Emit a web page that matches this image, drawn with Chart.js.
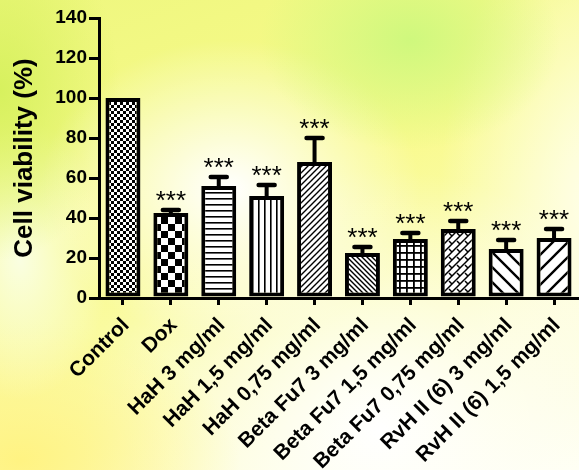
<!DOCTYPE html>
<html>
<head>
<meta charset="utf-8">
<script src="https://cdn.jsdelivr.net/npm/chart.js@4"></script>
<style>
    body {
        margin: 0;
        width: 579px;
        height: 470px;
        overflow: hidden;
        background:
            radial-gradient(ellipse 150px 110px at 410px 40px, rgba(205, 248, 125, 0.95), rgba(205, 248, 125, 0) 100%),
            radial-gradient(ellipse 190px 150px at 230px 190px, rgba(255, 255, 255, 1), rgba(255, 255, 255, 0) 100%),
            radial-gradient(ellipse 120px 170px at 0px 90px, rgba(212, 240, 90, 0.9), rgba(212, 240, 90, 0) 100%),
            radial-gradient(ellipse 90px 140px at 20px 260px, rgba(250, 255, 235, 0.9), rgba(250, 255, 235, 0) 100%),
            radial-gradient(ellipse 220px 140px at 20px 460px, rgba(255, 243, 130, 1), rgba(255, 243, 130, 0) 100%),
            radial-gradient(ellipse 300px 260px at 380px 430px, rgba(255, 255, 255, 1), rgba(255, 255, 255, 0) 100%),
            radial-gradient(ellipse 160px 300px at 600px 200px, rgba(255, 255, 235, 1), rgba(255, 255, 235, 0) 100%),
            linear-gradient(160deg, #eef77e 0%, #f9fa8c 40%, #fbfcb8 70%, #fffff0 100%);
    }
    #wrap { width: 579px; height: 470px; }
</style>
</head>
<body>
<div id="wrap"><canvas id="viabilityChart" width="579" height="470"></canvas></div>
<script>
const groups = ['Control', 'Dox', 'HaH 3 mg/ml', 'HaH 1,5 mg/ml', 'HaH 0,75 mg/ml',
    'Beta Fu7 3 mg/ml', 'Beta Fu7 1,5 mg/ml', 'Beta Fu7 0,75 mg/ml',
    'RvH II (6) 3 mg/ml', 'RvH II (6) 1,5 mg/ml'];
const viability = [100, 42.5, 56, 51, 68, 22.5, 29.5, 34.5, 24.5, 30];
const sem = [0, 1.5, 4.5, 5.5, 12, 3, 3, 4, 4.5, 4.5];
const stars = ['', '***', '***', '***', '***', '***', '***', '***', '***', '***'];
const patternNames = ['fineCheck', 'bigCheck', 'hLines', 'vLines', 'denseRight',
    'denseLeft', 'grid', 'weave', 'sparseLeft', 'sparseRight'];

function makePattern(name) {
    const tile = document.createElement('canvas');
    let size = 6;
    if (name === 'bigCheck') size = 14;
    if (name === 'grid') size = 6.5;
    if (name === 'weave') size = 8;
    if (name === 'sparseLeft' || name === 'sparseRight') size = 15;
    if (name === 'denseLeft') size = 5;
    size = Math.round(size);
    tile.width = size;
    tile.height = size;
    const c = tile.getContext('2d');
    c.fillStyle = '#fff';
    c.fillRect(0, 0, size, size);
    c.fillStyle = '#000';
    c.strokeStyle = '#000';

    const slash = (w) => {
        c.lineWidth = w;
        c.beginPath();
        c.moveTo(-2, size + 2); c.lineTo(size + 2, -2);
        c.moveTo(-2, 2); c.lineTo(2, -2);
        c.moveTo(size - 2, size + 2); c.lineTo(size + 2, size - 2);
        c.stroke();
    };
    const backslash = (w) => {
        c.lineWidth = w;
        c.beginPath();
        c.moveTo(-2, -2); c.lineTo(size + 2, size + 2);
        c.moveTo(size - 2, -2); c.lineTo(size + 2, 2);
        c.moveTo(-2, size - 2); c.lineTo(2, size + 2);
        c.stroke();
    };

    if (name === 'fineCheck') {
        c.fillRect(0, 0, 3, 3);
        c.fillRect(3, 3, 3, 3);
    } else if (name === 'bigCheck') {
        c.fillRect(0, 0, 7, 7);
        c.fillRect(7, 7, 7, 7);
    } else if (name === 'hLines') {
        c.fillRect(0, 0, size, 1.6);
    } else if (name === 'vLines') {
        c.fillRect(0, 0, 1.6, size);
    } else if (name === 'denseRight') {
        slash(1.4);
    } else if (name === 'denseLeft') {
        backslash(1.4);
    } else if (name === 'grid') {
        c.fillRect(0, 0, size, 1.8);
        c.fillRect(0, 0, 1.8, size);
    } else if (name === 'weave') {
        slash(1.5);
        c.lineWidth = 1.5;
        c.beginPath();
        c.moveTo(1, 1); c.lineTo(4, 4);
        c.stroke();
    } else if (name === 'sparseLeft') {
        backslash(2.4);
    } else if (name === 'sparseRight') {
        slash(2.4);
    }
    return c.createPattern(tile, 'repeat');
}

const errorBarsPlugin = {
    id: 'errorBars',
    afterDatasetsDraw(chart) {
        const ctx = chart.ctx;
        const meta = chart.getDatasetMeta(0);
        const yScale = chart.scales.y;
        ctx.save();
        ctx.strokeStyle = '#000';
        ctx.fillStyle = '#000';
        meta.data.forEach((bar, i) => {
            const top = yScale.getPixelForValue(viability[i] + sem[i]);
            if (sem[i] > 0) {
                ctx.lineWidth = 4;
                ctx.beginPath();
                ctx.moveTo(bar.x, bar.y);
                ctx.lineTo(bar.x, top);
                ctx.stroke();
                ctx.lineWidth = 4.5;
                ctx.lineCap = 'round';
                ctx.beginPath();
                ctx.moveTo(bar.x - 8, top);
                ctx.lineTo(bar.x + 8, top);
                ctx.stroke();
                ctx.lineCap = 'butt';
            }
            if (stars[i]) {
                ctx.font = '26px "Liberation Sans", Arial, sans-serif';
                ctx.textAlign = 'center';
                ctx.textBaseline = 'alphabetic';
                ctx.fillText(stars[i], bar.x, top - 1);
            }
        });
        ctx.restore();
    }
};

window.onload = () => {
    const ctx = document.getElementById('viabilityChart').getContext('2d');
    new Chart(ctx, {
        type: 'bar',
        data: {
            labels: groups,
            datasets: [{
                label: 'Cell viability (%)',
                data: viability,
                backgroundColor: patternNames.map(makePattern),
                borderColor: '#000',
                borderWidth: 4,
                borderSkipped: false,
                barPercentage: 0.73,
                categoryPercentage: 1.0
            }]
        },
        options: {
            responsive: false,
            animation: false,
            layout: {
                padding: { top: 18, right: 1, left: 0, bottom: 0 }
            },
            plugins: {
                legend: { display: false },
                tooltip: { enabled: false }
            },
            scales: {
                x: {
                    afterFit: (scale) => {
                        scale.height = 172;
                        scale.paddingRight = 0;
                        scale.paddingLeft = 0;
                    },
                    grid: {
                        offset: false,
                        drawOnChartArea: false,
                        color: '#000',
                        lineWidth: 3,
                        tickLength: 7
                    },
                    border: { display: true, color: '#000', width: 3 },
                    ticks: {
                        autoSkip: false,
                        maxRotation: 45,
                        minRotation: 45,
                        padding: 8,
                        labelOffset: 3,
                        color: '#000',
                        font: { family: '"Liberation Sans", Arial, sans-serif', size: 21, weight: 'bold' }
                    }
                },
                y: {
                    min: 0,
                    max: 140,
                    afterFit: (scale) => { scale.width = 99; },
                    grid: {
                        drawOnChartArea: false,
                        color: '#000',
                        lineWidth: 3,
                        tickLength: 10
                    },
                    border: { display: true, color: '#000', width: 3 },
                    ticks: {
                        stepSize: 20,
                        padding: 2,
                        color: '#000',
                        font: { family: '"Liberation Sans", Arial, sans-serif', size: 19, weight: 'bold' }
                    },
                    title: {
                        display: true,
                        text: 'Cell viability (%)',
                        color: '#000',
                        padding: { top: 9, bottom: 0 },
                        font: { family: '"Liberation Sans", Arial, sans-serif', size: 26, weight: 'bold' }
                    }
                }
            }
        },
        plugins: [errorBarsPlugin]
    });
};
</script>
</body>
</html>
